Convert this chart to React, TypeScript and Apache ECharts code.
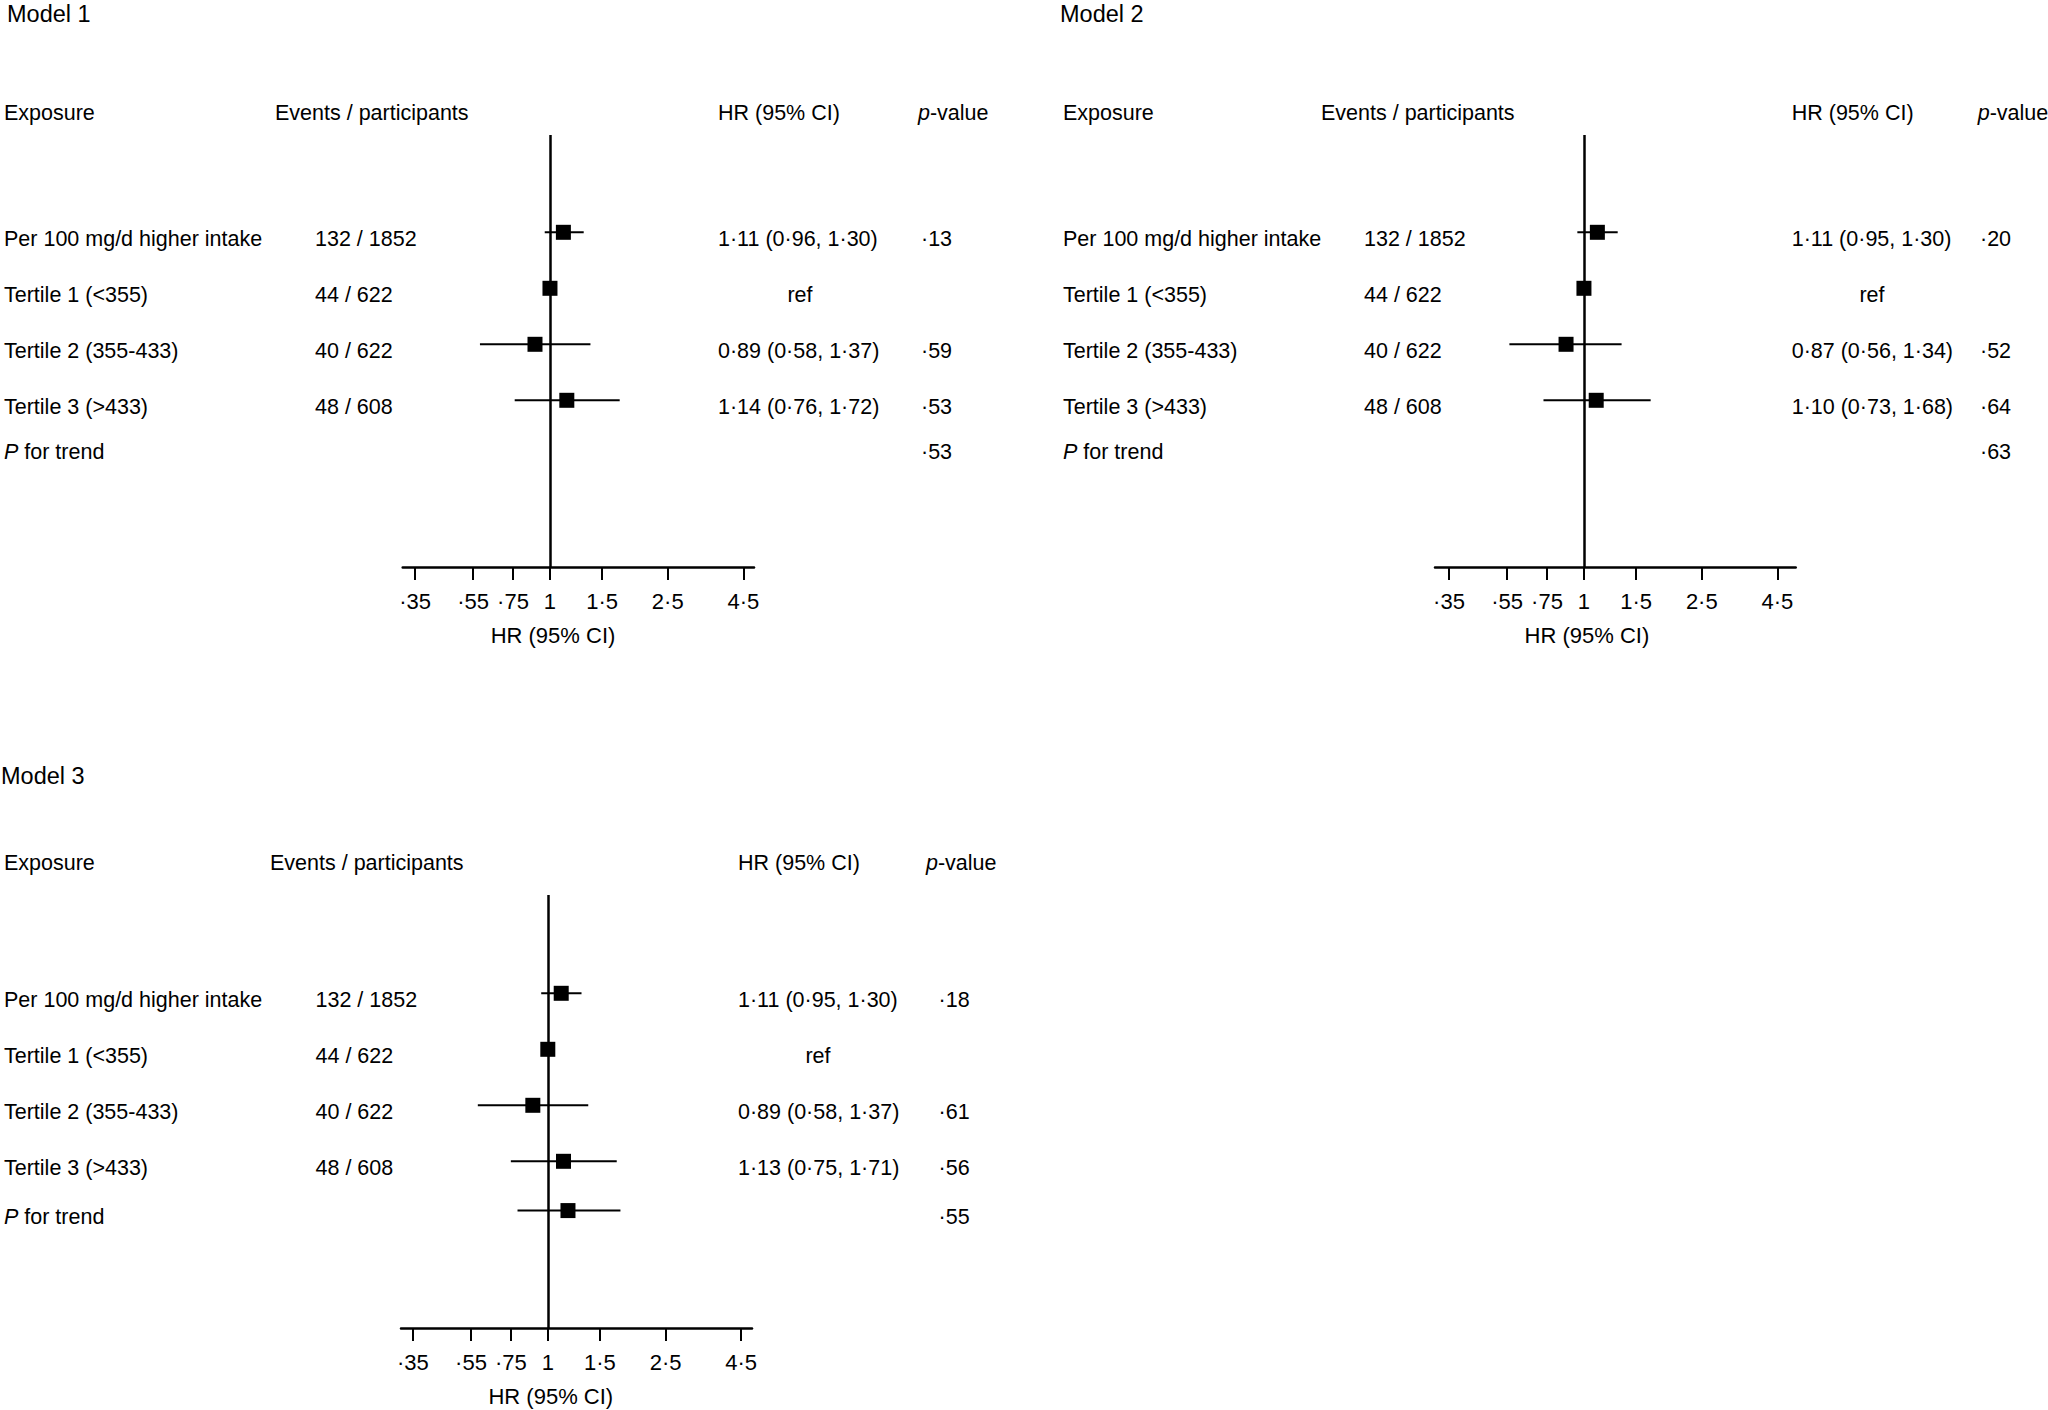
import React, { useEffect, useRef } from "react";
import * as echarts from "echarts";

// ---------- data ----------
const rowLabels = [
  "Per 100 mg/d higher intake",
  "Tertile 1 (<355)",
  "Tertile 2 (355-433)",
  "Tertile 3 (>433)",
  "{i|P} for trend",
];
const eventsParticipants = ["132 / 1852", "44 / 622", "40 / 622", "48 / 608", ""];
const tickValues = [0.35, 0.55, 0.75, 1, 1.5, 2.5, 4.5];
const tickLabels = ["·35", "·55", "·75", "1", "1·5", "2·5", "4·5"];

const model1HR = [1.11, 1.0, 0.89, 1.14, null];
const model1Low = [0.96, null, 0.58, 0.76, null];
const model1High = [1.3, null, 1.37, 1.72, null];
const model1HRText = ["1·11 (0·96, 1·30)", "ref", "0·89 (0·58, 1·37)", "1·14 (0·76, 1·72)", ""];
const model1P = ["·13", "", "·59", "·53", "·53"];

const model2HR = [1.11, 1.0, 0.87, 1.1, null];
const model2Low = [0.95, null, 0.56, 0.73, null];
const model2High = [1.3, null, 1.34, 1.68, null];
const model2HRText = ["1·11 (0·95, 1·30)", "ref", "0·87 (0·56, 1·34)", "1·10 (0·73, 1·68)", ""];
const model2P = ["·20", "", "·52", "·64", "·63"];

const model3HR = [1.11, 1.0, 0.89, 1.13, 1.17];
const model3Low = [0.95, null, 0.58, 0.75, 0.79];
const model3High = [1.3, null, 1.37, 1.71, 1.76];
const model3HRText = ["1·11 (0·95, 1·30)", "ref", "0·89 (0·58, 1·37)", "1·13 (0·75, 1·71)", ""];
const model3P = ["·18", "", "·61", "·56", "·55"];

// ---------- layout ----------
const FONT = "'Liberation Sans', Arial, Helvetica, sans-serif";
const FS = 21.5;
const AXIS_FS = 22;
const TITLE_FS = 23.5;

const panels = [
  {
    title: "Model 1",
    hr: model1HR, low: model1Low, high: model1High, hrText: model1HRText, p: model1P,
    titleX: 7, titleY: 13.5, headerY: 112.7,
    gridLeft: 402.7, gridRight: 754, gridTop: 135, gridBottom: 567,
    axisMin: 0.318, axisMax: 4.89,
    rowTop: 232.3, rowGap: 56, trendRow: 3.81,
    colExposure: 4, colEventsHead: 275, colEvents: 315, colHR: 718, colRef: 800, colPHead: 918, colP: 921,
  },
  {
    title: "Model 2",
    hr: model2HR, low: model2Low, high: model2High, hrText: model2HRText, p: model2P,
    titleX: 1060, titleY: 13.5, headerY: 112.7,
    gridLeft: 1435, gridRight: 1795.7, gridTop: 135, gridBottom: 567,
    axisMin: 0.314, axisMax: 5.19,
    rowTop: 232.3, rowGap: 56, trendRow: 3.81,
    colExposure: 1063, colEventsHead: 1321, colEvents: 1364, colHR: 1791.7, colRef: 1872, colPHead: 1977.7, colP: 1980,
  },
  {
    title: "Model 3",
    hr: model3HR, low: model3Low, high: model3High, hrText: model3HRText, p: model3P,
    titleX: 1, titleY: 776.3, headerY: 863,
    gridLeft: 401, gridRight: 752, gridTop: 895, gridBottom: 1328,
    axisMin: 0.319, axisMax: 4.9,
    rowTop: 993.3, rowGap: 56, trendRow: 3.88,
    colExposure: 4, colEventsHead: 270, colEvents: 315.5, colHR: 738, colRef: 818, colPHead: 926, colP: 938.6,
  },
];

const TEXT_OFFSET = 6.5;

function rowPositions(trendRow: number) {
  return [0, 1, 2, 3, trendRow];
}

function labelFor(v: number) {
  let best = 0;
  let bd = Infinity;
  tickValues.forEach((t, i) => {
    const d = Math.abs(Math.log(t) - v);
    if (d < bd) {
      bd = d;
      best = i;
    }
  });
  return tickLabels[best];
}

function txt(x: number, y: number, text: string, align = "left", size = FS) {
  return {
    type: "text",
    x,
    y,
    silent: true,
    style: {
      text,
      fill: "#000",
      fontSize: size,
      fontFamily: FONT,
      align,
      textAlign: align,
      verticalAlign: "middle",
      textVerticalAlign: "middle",
      rich: {
        i: { fontStyle: "italic", fontSize: size, fontFamily: FONT, fill: "#000" },
      },
    },
  };
}

export default function App() {
  const ref = useRef<HTMLDivElement>(null);

  useEffect(() => {
    if (!ref.current) return;
    const chart = echarts.init(ref.current, undefined, { renderer: "svg" });

    const grids: any[] = [];
    const xAxes: any[] = [];
    const yAxes: any[] = [];
    const series: any[] = [];

    panels.forEach((pn, i) => {
      const rows = rowPositions(pn.trendRow);
      grids.push({
        left: pn.gridLeft,
        top: pn.gridTop,
        width: pn.gridRight - pn.gridLeft,
        height: pn.gridBottom - pn.gridTop,
        containLabel: false,
        show: false,
      });
      xAxes.push({
        type: "value",
        gridIndex: i,
        min: Math.log(pn.axisMin),
        max: Math.log(pn.axisMax),
        position: "bottom",
        splitLine: { show: false },
        axisLine: { show: true, onZero: false, lineStyle: { color: "#000", width: 2.5 } },
        axisTick: {
          show: true,
          inside: false,
          length: 13,
          customValues: tickValues.map((t) => Math.log(t)),
          lineStyle: { color: "#000", width: 2 },
        },
        axisLabel: {
          show: true,
          customValues: tickValues.map((t) => Math.log(t)),
          formatter: (v: number) => labelFor(v),
          color: "#000",
          fontSize: AXIS_FS,
          fontFamily: FONT,
          margin: 23,
          showMinLabel: true,
          showMaxLabel: true,
          hideOverlap: false,
        },
      });
      yAxes.push({
        type: "value",
        gridIndex: i,
        inverse: true,
        min: (pn.gridTop - pn.rowTop) / pn.rowGap,
        max: (pn.gridBottom - pn.rowTop) / pn.rowGap,
        show: false,
        splitLine: { show: false },
      });

      const ciData: number[][] = [];
      const ptData: number[][] = [];
      pn.hr.forEach((h, r) => {
        const lo = pn.low[r];
        const hi = pn.high[r];
        if (lo != null && hi != null) ciData.push([Math.log(lo), Math.log(hi), rows[r]]);
        if (h != null) ptData.push([Math.log(h), rows[r]]);
      });

      series.push({
        type: "custom",
        xAxisIndex: i,
        yAxisIndex: i,
        z: 2,
        silent: true,
        encode: { x: [0, 1], y: 2 },
        data: ciData,
        renderItem: (_params: any, api: any) => {
          const y = api.value(2);
          const p1 = api.coord([api.value(0), y]);
          const p2 = api.coord([api.value(1), y]);
          return {
            type: "line",
            shape: { x1: p1[0], y1: p1[1], x2: p2[0], y2: p2[1] },
            style: { stroke: "#000", lineWidth: 2 },
          };
        },
      });
      series.push({
        type: "scatter",
        xAxisIndex: i,
        yAxisIndex: i,
        z: 3,
        silent: true,
        symbol: "rect",
        symbolSize: 15,
        itemStyle: { color: "#000", opacity: 1 },
        data: ptData,
        markLine: {
          silent: true,
          symbol: ["none", "none"],
          label: { show: false },
          lineStyle: { color: "#000", width: 2.5, type: "solid" },
          data: [{ xAxis: 0 }],
        },
      });
    });

    chart.setOption({
      animation: false,
      backgroundColor: "#fff",
      textStyle: { fontFamily: FONT, color: "#000" },
      grid: grids,
      xAxis: xAxes,
      yAxis: yAxes,
      series,
    });

    const graphics: any[] = [];
    panels.forEach((pn, i) => {
      const rows = rowPositions(pn.trendRow);
      graphics.push(txt(pn.titleX, pn.titleY, pn.title, "left", TITLE_FS));
      graphics.push(txt(pn.colExposure, pn.headerY, "Exposure"));
      graphics.push(txt(pn.colEventsHead, pn.headerY, "Events / participants"));
      graphics.push(txt(pn.colHR, pn.headerY, "HR (95% CI)"));
      graphics.push(txt(pn.colPHead, pn.headerY, "{i|p}-value"));
      rows.forEach((rv, r) => {
        const py = (chart.convertToPixel({ gridIndex: i } as any, [0, rv]) as number[])[1] + TEXT_OFFSET;
        graphics.push(txt(pn.colExposure, py, rowLabels[r]));
        if (eventsParticipants[r]) graphics.push(txt(pn.colEvents, py, eventsParticipants[r]));
        const ht = pn.hrText[r];
        if (ht === "ref") graphics.push(txt(pn.colRef, py, ht, "center"));
        else if (ht) graphics.push(txt(pn.colHR, py, ht));
        if (pn.p[r]) graphics.push(txt(pn.colP, py, pn.p[r]));
      });
      const one = chart.convertToPixel({ gridIndex: i } as any, [0, 0]) as number[];
      graphics.push(txt(one[0] + 3, pn.gridBottom + 68, "HR (95% CI)", "center", AXIS_FS));
    });

    chart.setOption({ graphic: { elements: graphics } });

    return () => {
      chart.dispose();
    };
  }, []);

  return (
    <div
      ref={ref}
      style={{ position: "fixed", left: 0, top: 0, width: "100vw", height: "100vh", background: "#fff" }}
    />
  );
}
